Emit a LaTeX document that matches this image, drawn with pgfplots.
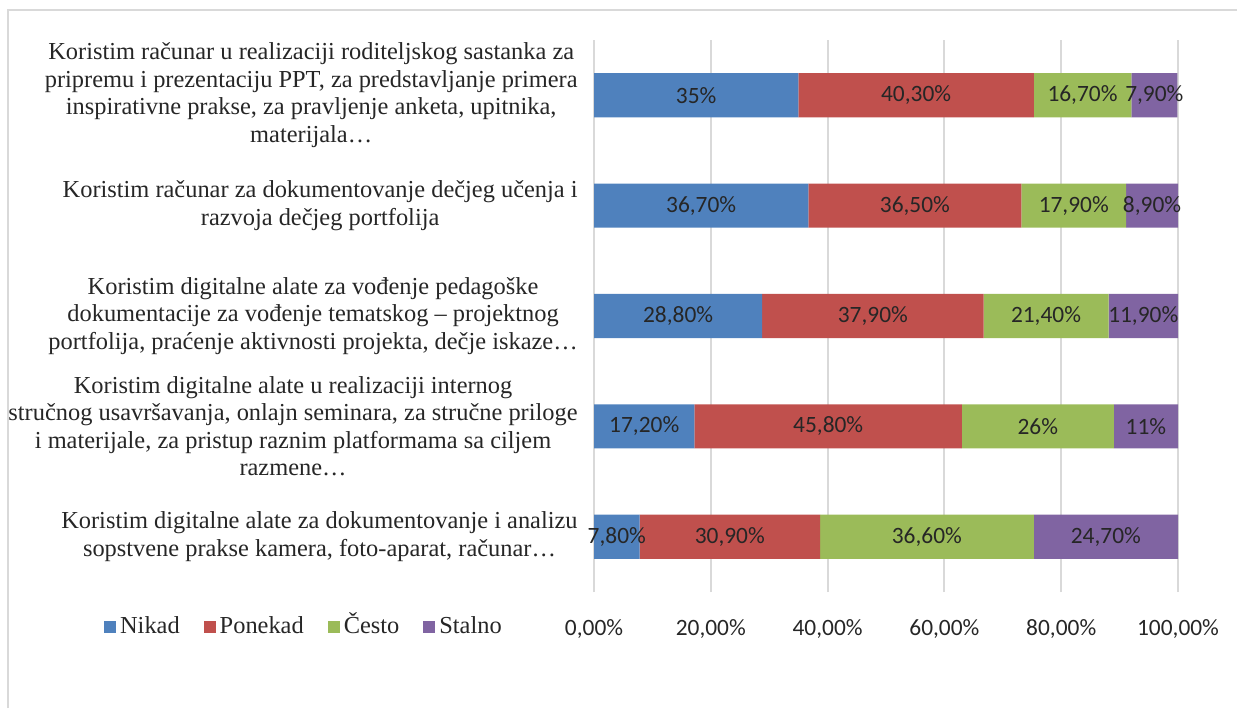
\documentclass[border=0pt]{standalone}
\usepackage{fontspec}
\setmainfont{Liberation Serif}
\newfontfamily\carlito{Carlito}
\usepackage{pgfplots}
\usepackage{pgfplotstable}
\pgfplotsset{compat=1.18}

\definecolor{cNikad}{HTML}{4F81BD}
\definecolor{cPonekad}{HTML}{C0504D}
\definecolor{cCesto}{HTML}{9BBB59}
\definecolor{cStalno}{HTML}{8064A2}
\definecolor{gridgray}{HTML}{D9D9D9}
\definecolor{txt}{HTML}{262626}

\newcommand\lblfont{\fontsize{12.2pt}{13.75pt}\selectfont}
\newcommand\numfont{\carlito\fontsize{11.7pt}{14pt}\selectfont}

% y = 0 is the bottom category, labels as printed
\pgfplotstableread{
y x lab
4 35.0 35
3 36.7 36,70
2 28.8 28,80
1 17.2 17,20
0 7.8 7,80
}\nikad
\pgfplotstableread{
y x lab
4 40.3 40,30
3 36.5 36,50
2 37.9 37,90
1 45.8 45,80
0 30.9 30,90
}\ponekad
\pgfplotstableread{
y x lab
4 16.7 16,70
3 17.9 17,90
2 21.4 21,40
1 26.0 26
0 36.6 36,60
}\cesto
\pgfplotstableread{
y x lab
4 7.9 7,90
3 8.9 8,90
2 11.9 11,90
1 11.0 11
0 24.7 24,70
}\stalno

\begin{document}
\begin{tikzpicture}
\useasboundingbox (0,0) rectangle (618.5pt,354pt);
\draw[gridgray, line width=1pt] (4pt,0) -- (4pt,349pt) -- (618.5pt,349pt);
\begin{axis}[
  at={(297pt,58pt)}, anchor=south west,
  scale only axis,
  width=292pt, height=276pt,
  xbar stacked, bar width=0.4,
  xmin=0, xmax=100, ymin=-0.5, ymax=4.5,
  xtick={0,20,40,60,80,100},
  xticklabels={{0,00\%},{20,00\%},{40,00\%},{60,00\%},{80,00\%},{100,00\%}},
  ytick={0,1,2,3,4},
  yticklabels={
    {Koristim digitalne alate za dokumentovanje i analizu\\sopstvene prakse kamera, foto-aparat, računar…},
    {Koristim digitalne alate u realizaciji internog\\stručnog usavršavanja, onlajn seminara, za stručne priloge\\i materijale, za pristup raznim platformama sa ciljem\\razmene…},
    {Koristim digitalne alate za vođenje pedagoške\\dokumentacije za vođenje tematskog – projektnog\\portfolija, praćenje aktivnosti projekta, dečje iskaze…},
    {Koristim računar za dokumentovanje dečjeg učenja i\\razvoja dečjeg portfolija},
    {Koristim računar u realizaciji roditeljskog sastanka za\\pripremu i prezentaciju PPT, za predstavljanje primera\\inspirativne prakse, za pravljenje anketa, upitnika,\\materijala…}
  },
  yticklabel style={font=\lblfont, align=center, anchor=east, inner sep=0pt, xshift=-8pt, text=txt},
  xticklabel style={font=\numfont, text=txt, yshift=-10pt},
  tick style={draw=none},
  axis lines*=left,
  axis line style={draw=none},
  xmajorgrids, grid style={gridgray, line width=1pt},
  point meta=explicit symbolic,
  nodes near coords={\pgfplotspointmeta\%},
  every node near coord/.append style={font=\numfont, text=txt, anchor=center},
  legend columns=4,
  legend style={at={(-0.495,-0.0634)}, anchor=center, draw=none, fill=none,
    font=\lblfont, text=txt, nodes={text height=8.5pt, text depth=2.5pt},
    /tikz/every even column/.append style={column sep=10pt}},
  legend image code/.code={\fill[#1] (0pt,-3pt) rectangle (6pt,3pt);},
]
\addplot[fill=cNikad, draw=none] table[x=x, y=y, meta=lab] {\nikad};
\addplot[fill=cPonekad, draw=none] table[x=x, y=y, meta=lab] {\ponekad};
\addplot[fill=cCesto, draw=none] table[x=x, y=y, meta=lab] {\cesto};
\addplot[fill=cStalno, draw=none] table[x=x, y=y, meta=lab] {\stalno};
\legend{Nikad, Ponekad, Često, Stalno}
\end{axis}
\end{tikzpicture}
\end{document}
